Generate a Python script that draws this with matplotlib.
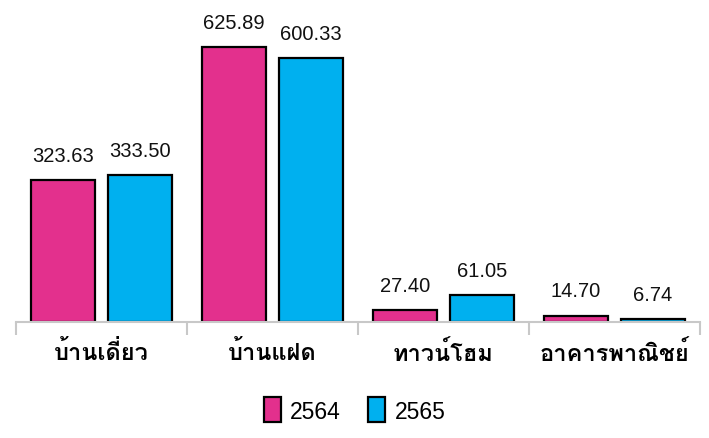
import matplotlib
matplotlib.use("Agg")
import matplotlib.pyplot as plt
import numpy as np
from matplotlib import font_manager, ft2font
from matplotlib.patches import Patch

categories = ["บ้านเดี่ยว", "บ้านแฝด", "ทาวน์โฮม", "อาคารพาณิชย์"]
years = ["2564", "2565"]
values_2564 = [323.63, 625.89, 27.40, 14.70]
values_2565 = [333.50, 600.33, 61.05, 6.74]

PINK = "#E3308D"
BLUE = "#00B0EF"


def find_thai_font():
    """Return the name of an installed family that has Thai glyphs."""
    found = []
    for f in font_manager.fontManager.ttflist:
        try:
            cmap = ft2font.FT2Font(f.fname).get_charmap()
        except Exception:
            continue
        if 0x0E1A in cmap and 0x0E49 in cmap:
            found.append(f.name)
    return found[0] if found else None


thai = find_thai_font()
label_family = [thai, "DejaVu Sans"] if thai else ["DejaVu Sans"]

plt.rcParams["font.family"] = ["Liberation Sans", "DejaVu Sans"]

fig = plt.figure(figsize=(7.09, 4.39), dpi=100)
ax = fig.add_axes([16 / 709, 116 / 439, 684 / 709, 0.7007])

x = np.arange(len(categories))
width = 0.372
offset = 0.225

b1 = ax.bar(x - offset, values_2564, width, color=PINK, edgecolor="black", linewidth=1.6)
b2 = ax.bar(x + offset, values_2565, width, color=BLUE, edgecolor="black", linewidth=1.6)
for bars in (b1, b2):
    ax.bar_label(bars, labels=[f"{v:.2f}" for v in bars.datavalues],
                 padding=11, fontsize=14.5, color="#111111")

ax.set_xlim(-0.5, len(categories) - 0.5)
ax.set_ylim(0, 700)
ax.set_yticks([])
for side in ("left", "right", "top"):
    ax.spines[side].set_visible(False)
ax.spines["bottom"].set_color("#C8C8C8")
ax.spines["bottom"].set_linewidth(1.5)

ax.set_xticks(x)
ax.set_xticklabels(categories, fontsize=17, fontweight="bold", family=label_family)
ax.tick_params(axis="x", which="major", length=0, pad=13)
ax.set_xticks(np.arange(-0.5, len(categories)), minor=True)
ax.tick_params(axis="x", which="minor", length=9, width=1.5, color="#C8C8C8")

handles = [Patch(facecolor=PINK, edgecolor="black", linewidth=1.6),
           Patch(facecolor=BLUE, edgecolor="black", linewidth=1.6)]
fig.legend(handles, years, loc="center", bbox_to_anchor=(0.5, 1 - 411 / 439),
           ncol=2, frameon=False, fontsize=16.5, handlelength=0.75, handleheight=1.3,
           handletextpad=0.4, columnspacing=1.2)

fig.savefig("out.png", dpi=100)
